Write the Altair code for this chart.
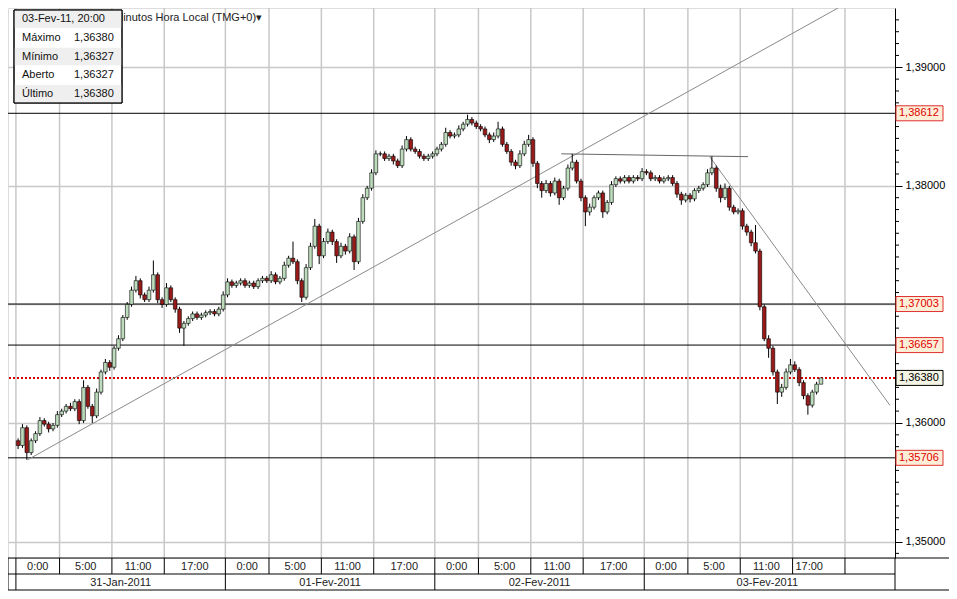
import altair as alt
import pandas as pd

FONT = "Liberation Sans"

# ---------------- data (30-minute candles, hours counted from 31-Jan-2011 0:00) ----------------
open0 = 1.3585
closes = [
    1.3581, 1.3596, 1.3575, 1.3585, 1.3591, 1.3602, 1.3599, 1.3595, 1.3598, 1.3607,
    1.3610, 1.3614, 1.3612, 1.3618, 1.3602, 1.3630, 1.3614, 1.3606, 1.3626, 1.3643,
    1.3651, 1.3647, 1.3663, 1.3671, 1.3689, 1.3700, 1.3712, 1.3720, 1.3708, 1.3704,
    1.3712, 1.3725, 1.3704, 1.3700, 1.3714, 1.3704, 1.3696, 1.3680, 1.3684, 1.3688,
    1.3692, 1.3689, 1.3691, 1.3693, 1.3694, 1.3692, 1.3696, 1.3708, 1.3719, 1.3716,
    1.3718, 1.3720, 1.3716, 1.3718, 1.3715, 1.3720, 1.3722, 1.3720, 1.3725, 1.3719,
    1.3722, 1.3733, 1.3739, 1.3736, 1.3720, 1.3706, 1.3731, 1.3749, 1.3766, 1.3741,
    1.3753, 1.3761, 1.3753, 1.3741, 1.3749, 1.3745, 1.3757, 1.3736, 1.3770, 1.3790,
    1.3798, 1.3811, 1.3827, 1.3827, 1.3823, 1.3825, 1.3821, 1.3817, 1.3831, 1.3839,
    1.3831, 1.3829, 1.3825, 1.3823, 1.3825, 1.3827, 1.3831, 1.3835, 1.3845, 1.3842,
    1.3843, 1.3848, 1.3852, 1.3856, 1.3853, 1.3850, 1.3848, 1.3843, 1.3839, 1.3842,
    1.3848, 1.3835, 1.3829, 1.3820, 1.3817, 1.3827, 1.3835, 1.3839, 1.3819, 1.3802,
    1.3796, 1.3802, 1.3794, 1.3804, 1.3790, 1.3798, 1.3815, 1.3820, 1.3804, 1.3790,
    1.3778, 1.3782, 1.3790, 1.3794, 1.3778, 1.3786, 1.3801, 1.3806, 1.3804, 1.3807,
    1.3804, 1.3807, 1.3806, 1.3812, 1.3811, 1.3806, 1.3807, 1.3804, 1.3806, 1.3807,
    1.3802, 1.3793, 1.3788, 1.3792, 1.3789, 1.3796, 1.3798, 1.3801, 1.3811, 1.3815,
    1.3798, 1.3790, 1.3798, 1.3782, 1.3778, 1.3779, 1.3766, 1.3761, 1.3752, 1.3745,
    1.3698, 1.3671, 1.3663, 1.3643, 1.3626, 1.3630, 1.3643, 1.3649, 1.3645, 1.3634,
    1.3623, 1.3615, 1.3626, 1.36327, 1.36380,
]
# wick lengths above / below the candle body, in pips (0.0001)
upper_wick = [
    2, 3, 2, 2, 2, 3, 2, 2, 2, 3, 2, 2, 3, 2, 2, 6, 2, 2, 3, 2,
    3, 2, 2, 3, 2, 2, 3, 4, 2, 2, 3, 12, 2, 2, 4, 2, 2, 2, 2, 2,
    2, 2, 2, 2, 2, 2, 2, 3, 3, 2, 2, 2, 2, 2, 2, 2, 2, 2, 3, 2,
    2, 3, 2, 14, 2, 2, 3, 3, 6, 2, 3, 3, 2, 2, 3, 2, 3, 2, 3, 3,
    2, 3, 3, 2, 2, 2, 2, 2, 3, 3, 2, 2, 2, 2, 2, 2, 2, 2, 4, 2,
    2, 3, 2, 4, 2, 2, 2, 2, 2, 3, 6, 2, 2, 2, 2, 3, 3, 4, 2, 2,
    2, 3, 2, 3, 2, 2, 3, 7, 2, 2, 2, 3, 2, 2, 2, 2, 3, 2, 2, 2,
    2, 2, 2, 3, 2, 2, 2, 2, 2, 2, 2, 2, 2, 2, 2, 2, 2, 2, 3, 10,
    2, 3, 4, 2, 2, 2, 2, 2, 2, 15, 2, 2, 3, 2, 2, 3, 3, 5, 3, 2,
    2, 2, 2, 2, 0,
]
lower_wick = [
    3, 2, 6, 2, 2, 2, 2, 3, 2, 2, 2, 2, 2, 2, 3, 2, 2, 6, 2, 2,
    2, 3, 2, 2, 2, 2, 2, 2, 3, 2, 2, 2, 3, 3, 2, 2, 3, 4, 15, 2,
    2, 2, 2, 2, 2, 2, 2, 2, 2, 2, 2, 2, 2, 2, 2, 2, 2, 2, 2, 2,
    2, 2, 2, 2, 3, 4, 2, 2, 2, 7, 2, 2, 3, 6, 2, 3, 2, 7, 2, 2,
    2, 2, 2, 2, 2, 2, 3, 2, 2, 2, 2, 2, 2, 2, 2, 2, 2, 2, 2, 2,
    2, 2, 2, 2, 2, 2, 2, 2, 3, 2, 2, 2, 2, 3, 3, 2, 2, 2, 3, 4,
    6, 2, 3, 2, 6, 2, 2, 2, 2, 3, 12, 3, 2, 2, 5, 2, 2, 2, 2, 2,
    2, 2, 2, 2, 2, 2, 2, 2, 2, 2, 2, 3, 4, 2, 3, 2, 2, 2, 2, 2,
    3, 4, 2, 3, 2, 2, 3, 3, 3, 2, 3, 2, 8, 3, 10, 4, 2, 2, 2, 3,
    3, 8, 2, 2, 0,
]

level_prices = [1.38612, 1.37003, 1.36657, 1.35706]
level_labels = ["1,38612", "1,37003", "1,36657", "1,35706"]
last_price = 1.36380
last_label = "1,36380"
major_ticks = [1.35, 1.36, 1.37, 1.38, 1.39]
# 1,37000 is hidden behind the 1,37003 tag in the reference
labelled_ticks = [1.35, 1.36, 1.38, 1.39]

grid_hours = [0, 5, 11, 17, 24, 29, 35, 41, 48, 53, 59, 65, 72, 77, 83, 89, 95]
hour_labels = ["0:00", "5:00", "11:00", "17:00"] * 4
hour_label_pos = [2.5, 8, 14, 20.5, 26.5, 32, 38, 44.5, 50.5, 56, 62, 68.5, 74.5, 80, 86, 90.9]
day_labels = ["31-Jan-2011", "01-Fev-2011", "02-Fev-2011", "03-Fev-2011"]
day_label_pos = [12, 36, 60, 86.1]
day_bounds = [0, 24, 48, 72]

trend_up = {"h": [1.335, 94.2], "p": [1.35689, 1.39500]}
trend_flat = {"h": [62.5, 83.9], "p": [1.38270, 1.38246]}
trend_down = {"h": [79.5, 100.16], "p": [1.38246, 1.36148]}

info_rows = [("03-Fev-11, 20:00", ""), ("Máximo", "1,36380"), ("Mínimo", "1,36327"),
             ("Aberto", "1,36327"), ("Último", "1,36380")]

# ---------------- tables ----------------
opens = [open0] + closes[:-1]
candles = pd.DataFrame({
    "t": [0.25 + 0.5 * i for i in range(len(closes))],
    "o": opens,
    "c": closes,
    "hi": [max(o, c) + u * 1e-4 for o, c, u in zip(opens, closes, upper_wick)],
    "lo": [min(o, c) - d * 1e-4 for o, c, d in zip(opens, closes, lower_wick)],
})
candles["dir"] = ["up" if c >= o else "down" for o, c in zip(opens, closes)]

W, H = 887, 550
xs = alt.Scale(domain=[-0.334, 100.16], nice=False, zero=False)
ys = alt.Scale(domain=[1.34861, 1.395], nice=False, zero=False)
yaxis = alt.Axis(orient="right", values=labelled_ticks,
                 labelExpr="replace(format(datum.value, '.5f'), '.', ',')",
                 tickSize=7, tickColor="black", domainColor="black", labelColor="black",
                 labelFont=FONT, labelFontSize=11, labelPadding=3, grid=True,
                 gridColor="#c8c8c8", gridWidth=1.5, title=None)


def X(f):
    return alt.X(f, type="quantitative", scale=xs, axis=None)


def Y(f):
    return alt.Y(f, type="quantitative", scale=ys, axis=yaxis)


one = pd.DataFrame({"z": [0]})
layers = []

# vertical grid + the 1.37 horizontal grid line
layers.append(alt.Chart(pd.DataFrame({"h": grid_hours})).mark_rule(color="#c8c8c8", strokeWidth=1.5)
              .encode(x=X("h")))
layers.append(alt.Chart(pd.DataFrame({"p": [1.37]})).mark_rule(color="#c8c8c8", strokeWidth=1.5)
              .encode(y=Y("p")))
# horizontal levels
layers.append(alt.Chart(pd.DataFrame({"p": level_prices})).mark_rule(color="black", strokeWidth=1)
              .encode(y=Y("p")))
layers.append(alt.Chart(pd.DataFrame({"p": [last_price]}))
              .mark_rule(color="#d40000", strokeWidth=2, strokeDash=[2, 2]).encode(y=Y("p")))
# trend lines
for tl, col in [(trend_up, "#8a8a8a"), (trend_flat, "#666666"), (trend_down, "#8a8a8a")]:
    layers.append(alt.Chart(pd.DataFrame(tl)).mark_line(color=col, strokeWidth=1, clip=True)
                  .encode(x=X("h"), y=Y("p")))
# candles
layers.append(alt.Chart(candles).mark_rule(color="black", strokeWidth=1)
              .encode(x=X("t"), y=Y("lo"), y2="hi"))
layers.append(alt.Chart(candles).mark_bar(width=3.6, stroke="black", strokeWidth=0.6)
              .encode(x=X("t"), y=Y("o"), y2="c",
                      color=alt.Color("dir:N", scale=alt.Scale(domain=["up", "down"],
                                                               range=["#bcdcbc", "#9a1a1a"]),
                                      legend=None)))
# minor ticks on price axis
minor = [round(1.349 + 0.001 * k, 3) for k in range(46)]
minor = [m for m in minor if m not in major_ticks]
layers.append(alt.Chart(pd.DataFrame({"p": minor})).mark_rule(color="black", strokeWidth=1)
              .encode(x=alt.value(W), x2=alt.value(W + 4), y=Y("p")))
layers.append(alt.Chart(pd.DataFrame({"p": [1.37]})).mark_rule(color="black", strokeWidth=1)
              .encode(x=alt.value(W), x2=alt.value(W + 7), y=Y("p")))
# price tags
layers.append(alt.Chart(pd.DataFrame({"p": level_prices}))
              .mark_rect(height=15, fill="#fdeed8", stroke="#e03030", strokeWidth=1)
              .encode(x=alt.value(W + 1), x2=alt.value(W + 48), y=Y("p")))
layers.append(alt.Chart(pd.DataFrame({"p": level_prices, "lab": level_labels}))
              .mark_text(align="left", baseline="middle", font=FONT, fontSize=11, color="#e00000")
              .encode(x=alt.value(W + 4), y=Y("p"), text="lab:N"))
layers.append(alt.Chart(pd.DataFrame({"p": [last_price]}))
              .mark_rect(height=15, fill="#f4f4e4", stroke="black", strokeWidth=1)
              .encode(x=alt.value(W + 1), x2=alt.value(W + 48), y=Y("p")))
layers.append(alt.Chart(pd.DataFrame({"p": [last_price], "lab": [last_label]}))
              .mark_text(align="left", baseline="middle", font=FONT, fontSize=11, color="black")
              .encode(x=alt.value(W + 4), y=Y("p"), text="lab:N"))

# bottom time band
for (x1, x2, yy) in [(0, W + 54, H), (0, W, H + 16), (0, W + 54, H + 32)]:
    layers.append(alt.Chart(one).mark_rule(color="black", strokeWidth=1)
                  .encode(x=alt.value(x1), x2=alt.value(x2), y=alt.value(yy)))
for xx in [0, W]:
    layers.append(alt.Chart(one).mark_rule(color="black", strokeWidth=1)
                  .encode(x=alt.value(xx), y=alt.value(H), y2=alt.value(H + 32)))
layers.append(alt.Chart(pd.DataFrame({"h": grid_hours})).mark_rule(color="black", strokeWidth=1)
              .encode(x=X("h"), y=alt.value(H), y2=alt.value(H + 16)))
layers.append(alt.Chart(pd.DataFrame({"h": day_bounds})).mark_rule(color="black", strokeWidth=1)
              .encode(x=X("h"), y=alt.value(H + 16), y2=alt.value(H + 32)))
layers.append(alt.Chart(pd.DataFrame({"h": hour_label_pos, "lab": hour_labels}))
              .mark_text(baseline="middle", font=FONT, fontSize=11, color="#222222")
              .encode(x=X("h"), y=alt.value(H + 8.5), text="lab:N"))
layers.append(alt.Chart(pd.DataFrame({"h": day_label_pos, "lab": day_labels}))
              .mark_text(baseline="middle", font=FONT, fontSize=11, color="#222222")
              .encode(x=X("h"), y=alt.value(H + 24.5), text="lab:N"))

# header text and info box
layers.append(alt.Chart(one).mark_text(align="left", baseline="middle", font=FONT, fontSize=11,
                                       color="#222222", text="Minutos Hora Local (TMG+0)\u25be")
              .encode(x=alt.value(106), y=alt.value(10)))
layers.append(alt.Chart(one).mark_rect(fill="white", stroke="black", strokeWidth=1)
              .encode(x=alt.value(6), x2=alt.value(114), y=alt.value(2), y2=alt.value(95)))
row_h = 18.6
for k, (lab, val) in enumerate(info_rows):
    top = 2 + k * row_h
    if k % 2 == 0:
        layers.append(alt.Chart(one).mark_rect(fill="#efefef")
                      .encode(x=alt.value(6.5), x2=alt.value(113.5), y=alt.value(top + 0.5),
                              y2=alt.value(top + row_h - 0.5)))
    layers.append(alt.Chart(one).mark_text(align="left", baseline="middle", font=FONT, fontSize=11,
                                           color="#111111", text=lab)
                  .encode(x=alt.value(14), y=alt.value(top + row_h / 2)))
    if val:
        layers.append(alt.Chart(one).mark_text(align="left", baseline="middle", font=FONT,
                                               fontSize=11, color="#111111", text=val)
                      .encode(x=alt.value(66), y=alt.value(top + row_h / 2)))
layers.append(alt.Chart(one).mark_rect(fill=None, stroke="black", strokeWidth=1)
              .encode(x=alt.value(6), x2=alt.value(114), y=alt.value(2), y2=alt.value(95)))

chart = (alt.layer(*layers)
         .properties(width=W, height=H, autosize=alt.AutoSizeParams(type="none"),
                     padding={"left": 0, "top": 0, "right": 54, "bottom": 33},
                     background="white")
         .configure_view(stroke="black", strokeWidth=1)
         .configure(font=FONT))

chart.save("out.html", embed_options={"renderer": "svg", "actions": False})
